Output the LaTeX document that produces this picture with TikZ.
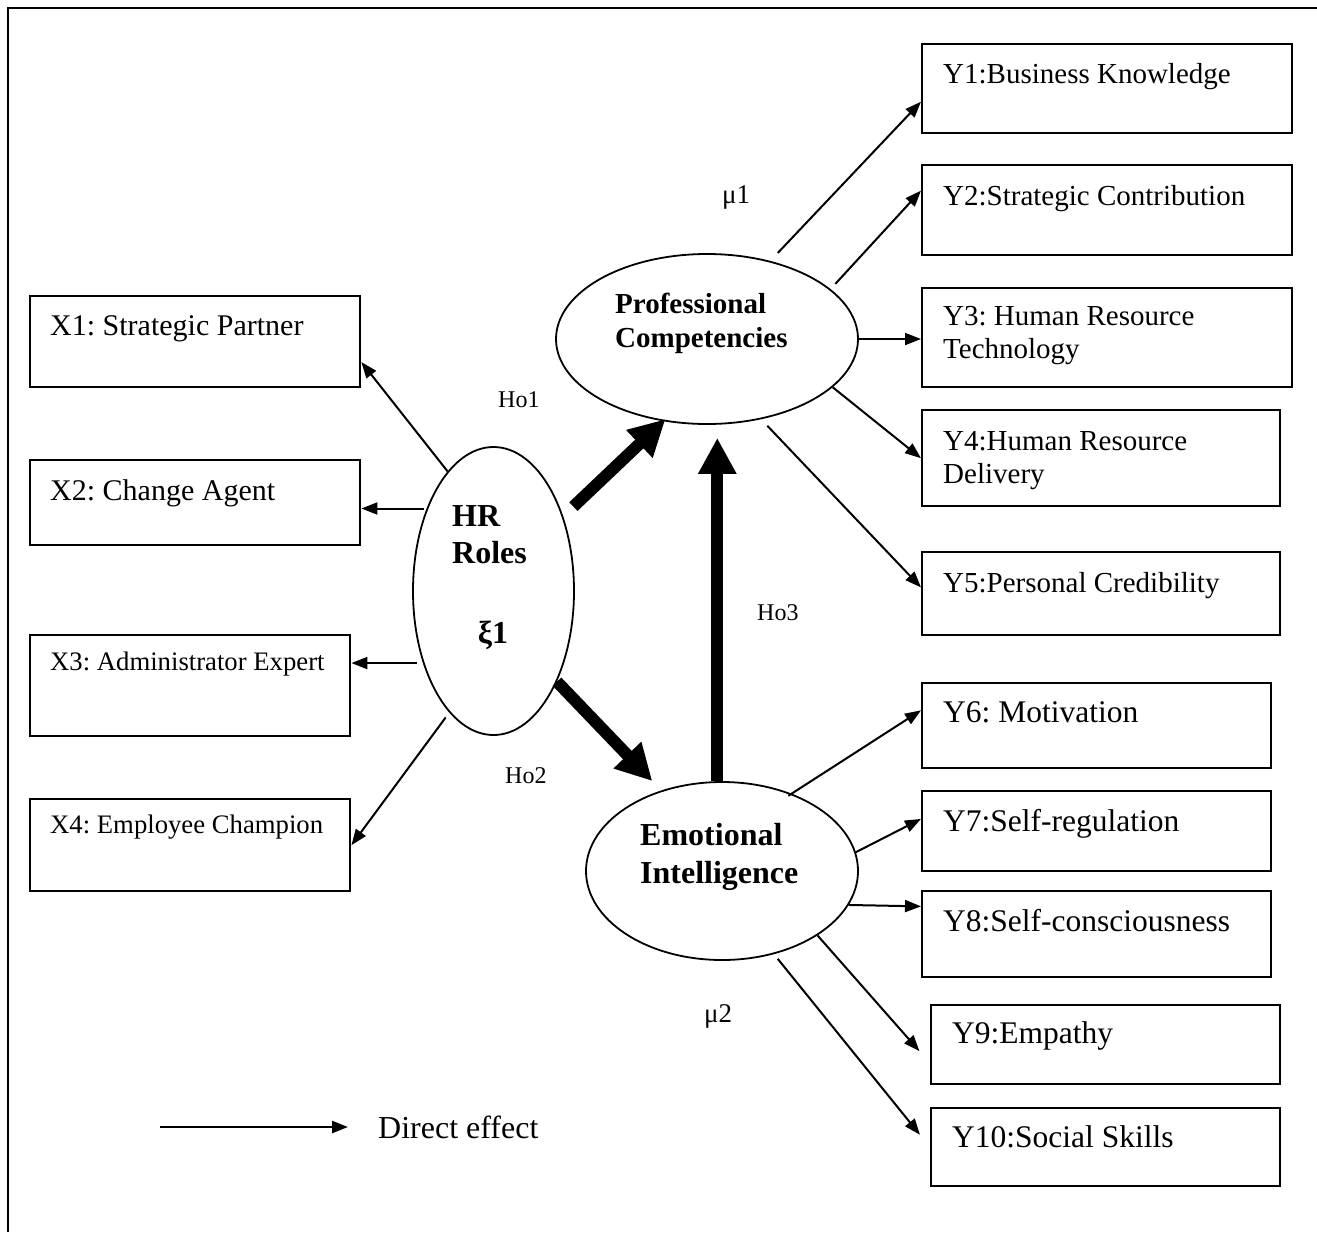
\documentclass[tikz,border=0pt]{standalone}
\usepackage{fontspec}
\setmainfont{Liberation Serif}
\usetikzlibrary{arrows.meta,shapes.geometric,calc}
\frenchspacing

\begin{document}
\begin{tikzpicture}[
 x=1pt,y=-1pt,
 box/.style={draw,line width=2.4pt,anchor=north west,inner sep=0pt},
 latent/.style={draw,ellipse,line width=1.8pt,inner sep=0pt},
 txt/.style={anchor=base west,inner sep=0pt,align=left},
 xlab/.style={txt,font=\fontsize{30}{34}\selectfont},
 xsml/.style={txt,font=\fontsize{26.7}{32}\selectfont},
 ylab/.style={txt,font=\fontsize{29}{33}\selectfont},
 ybig/.style={txt,font=\fontsize{31.5}{36}\selectfont},
 hyp/.style={txt,font=\fontsize{24}{28}\selectfont},
 lat/.style={txt,font=\bfseries\fontsize{32}{37}\selectfont},
 arr/.style={-{Triangle[length=16pt,width=12pt]},line width=2pt},
 big/.style={-{Triangle[length=36pt,width=36pt]},line width=12pt}
]
\useasboundingbox (0,0) rectangle (1317,1232);
% frame, cut off on the right and at the bottom
\draw[line width=2pt] (1317,8) -- (8,8) -- (8,1232);

% latent variables
\node[latent,minimum width=161pt,minimum height=288pt] (hr) at (493.5,591) {};
\node[latent,minimum width=302pt,minimum height=170pt] (pc) at (707,339) {};
\node[latent,minimum width=272pt,minimum height=178pt] (ei) at (722,871) {};
\node[lat] (hrt) at (452,563) {HR\\Roles};
\node[lat,anchor=base] (xi) at (493,643) {ξ1};
\node[lat,font=\bfseries\fontsize{29}{34}\selectfont] (pct) at (615,347) {Professional\\Competencies};
\node[lat,font=\bfseries\fontsize{32}{38}\selectfont] (eit) at (640,883) {Emotional\\Intelligence};

% indicators of HR roles
\node[box,minimum width=330pt,minimum height=91pt] (x1) at (29,295) {};
\node[box,minimum width=330pt,minimum height=85pt] (x2) at (29,459) {};
\node[box,minimum width=320pt,minimum height=101pt] (x3) at (29,634) {};
\node[box,minimum width=320pt,minimum height=92pt] (x4) at (29,798) {};
\node[xlab] (x1t) at ($(x1.north west)+(21,40)$) {X1: Strategic Partner};
\node[xlab] (x2t) at ($(x2.north west)+(21,41)$) {X2: Change Agent};
\node[xsml] (x3t) at ($(x3.north west)+(21,36)$) {X3: Administrator Expert};
\node[xsml] (x4t) at ($(x4.north west)+(21,35)$) {X4: Employee Champion};

% indicators of competencies
\node[box,minimum width=370pt,minimum height=89pt] (y1) at (921,43) {};
\node[box,minimum width=370pt,minimum height=90pt] (y2) at (921,164) {};
\node[box,minimum width=370pt,minimum height=99pt] (y3) at (921,287) {};
\node[box,minimum width=358pt,minimum height=96pt] (y4) at (921,409) {};
\node[box,minimum width=358pt,minimum height=83pt] (y5) at (921,551) {};
\node[ylab] (y1t) at ($(y1.north west)+(22,40)$) {Y1:Business Knowledge};
\node[ylab] (y2t) at ($(y2.north west)+(22,41)$) {Y2:Strategic Contribution};
\node[ylab] (y3t) at ($(y3.north west)+(22,71)$) {Y3: Human Resource\\Technology};
\node[ylab] (y4t) at ($(y4.north west)+(22,74)$) {Y4:Human Resource\\Delivery};
\node[ylab] (y5t) at ($(y5.north west)+(22,41)$) {Y5:Personal Credibility};

% indicators of emotional intelligence
\node[box,minimum width=349pt,minimum height=85pt] (y6) at (921,682) {};
\node[box,minimum width=349pt,minimum height=80pt] (y7) at (921,790) {};
\node[box,minimum width=349pt,minimum height=86pt] (y8) at (921,890) {};
\node[box,minimum width=349pt,minimum height=79pt] (y9) at (930,1004) {};
\node[box,minimum width=349pt,minimum height=78pt] (y10) at (930,1107) {};
\node[ybig] (y6t) at ($(y6.north west)+(22,40)$) {Y6: Motivation};
\node[ybig] (y7t) at ($(y7.north west)+(22,41)$) {Y7:Self-regulation};
\node[ybig] (y8t) at ($(y8.north west)+(22,41)$) {Y8:Self-consciousness};
\node[ybig] (y9t) at ($(y9.north west)+(22,39)$) {Y9:Empathy};
\node[ybig] (y10t) at ($(y10.north west)+(22,40)$) {Y10:Social Skills};

% path labels
\node[hyp] (ho1) at (498,407) {Ho1};
\node[hyp] (ho2) at (505,783) {Ho2};
\node[hyp] (ho3) at (757,620) {Ho3};
\node[hyp,font=\fontsize{27}{30}\selectfont] (mu1) at (722,203) {μ1};
\node[hyp,font=\fontsize{27}{30}\selectfont] (mu2) at (704,1022) {μ2};

% measurement arrows
\draw[arr] (hr.111) -- (x1.-7);
\draw[arr] ($(x2.-2)+(63,0)$) -- (x2.-2);
\draw[arr] ($(x3.8)+(66,0)$) -- (x3.8);
\draw[arr,shorten <=6pt] (hr.250) -- (x4.east);
\draw[arr,shorten <=11pt] (pc.51) -- (y1.184.5);
\draw[arr,shorten <=7pt] (pc.22) -- (y2.174);
\draw[arr] (pc.east) -- (pc.east -| y3.west);
\draw[arr] (pc.-21) -- (y4.west);
\draw[arr,shorten <=9pt] (pc.-56) -- (y5.178);
\draw[arr,shorten <=-4pt] (ei.48) -- (y6.175);
\draw[arr] (ei.8) -- (y7.176);
\draw[arr] (ei.-15) -- (y8.171.5);
\draw[arr,shorten >=16pt] (ei.-34) -- (y9.186.7);
\draw[arr,shorten <=6pt,shorten >=16pt] (ei.-58.5) -- (y10.west);

% structural paths
\draw[big,shorten <=14pt,shorten >=-3pt] (hr.47) -- (pc.242);
\draw[big,shorten >=13pt] (hr.-55) -- (ei.127.5);
\draw[big,shorten >=13pt] (ei.93) -- (ei.93 |- pc.south);

% legend
\coordinate (lg) at (160,1127);
\node[ylab,anchor=west,font=\fontsize{32}{36}\selectfont] (lgt) at (378,1127) {Direct effect};
\draw[arr,line width=2.5pt,shorten >=30pt] (lg) -- (lgt.west);
\end{tikzpicture}
\end{document}
